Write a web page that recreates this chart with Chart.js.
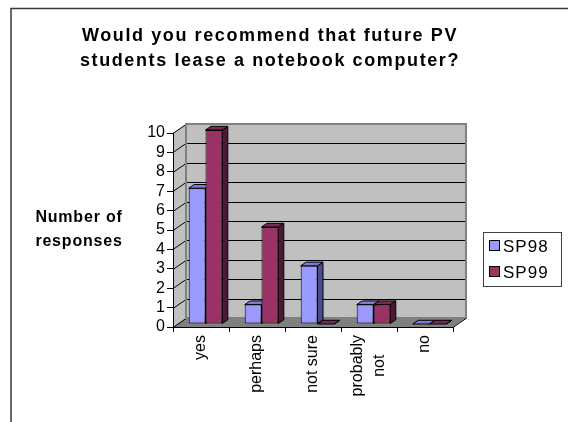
<!DOCTYPE html>
<html>
<head>
<meta charset="utf-8">
<script src="https://cdn.jsdelivr.net/npm/chart.js@4.4.0/dist/chart.umd.min.js"></script>
<style>
  html, body { margin: 0; padding: 0; background: #fff; }
  #caixa { width: 568px; height: 422px; }
</style>
</head>
<body>
<div id="caixa"><canvas id="grafico"></canvas></div>
<script>
const titulo = ['Would you recommend that future PV', 'students lease a notebook computer?'];
const tituloEixoY = ['Number of', 'responses'];
const categorias = ['yes', 'perhaps', 'not sure', ['probably', 'not'], 'no'];
const rotulos = ['SP98', 'SP99'];
const sp98 = [7, 1, 3, 1, 0];
const sp99 = [10, 5, 0, 1, 0];
const escalaY = [0, 10, 1]; // min, max, passo

// cores: frente, topo, lateral
const coresSp98 = ['#9999ff', '#7b7bd6', '#4d4d8c'];
const coresSp99 = ['#993366', '#7a2952', '#4d1a33'];

const fonte = '"Liberation Sans", Arial, sans-serif';

// profundidade da caixa 3D e das barras
const PX = 13, PY = 9;
const DX = 4.5, DY = 3;
const EX = 5.5, EY = 3.7;

function poligono(ctx, pts, cor) {
  ctx.beginPath();
  ctx.moveTo(pts[0][0], pts[0][1]);
  for (let i = 1; i < pts.length; i++) ctx.lineTo(pts[i][0], pts[i][1]);
  ctx.closePath();
  ctx.fillStyle = cor;
  ctx.fill();
  ctx.strokeStyle = '#000';
  ctx.lineWidth = 1;
  ctx.stroke();
}

const caixa3d = {
  id: 'caixa3d',
  beforeDraw(chart) {
    const { ctx, chartArea: a, scales: { y } } = chart;
    ctx.save();
    // moldura
    ctx.strokeStyle = '#3a3a3a';
    ctx.lineWidth = 1.5;
    ctx.beginPath();
    ctx.moveTo(11, 422);
    ctx.lineTo(11, 8.5);
    ctx.lineTo(568, 8.5);
    ctx.stroke();

    // paredes e chão
    ctx.fillStyle = '#c0c0c0';
    ctx.beginPath();
    ctx.moveTo(a.left, a.top);
    ctx.lineTo(a.left + PX, a.top - PY);
    ctx.lineTo(a.left + PX, a.bottom - PY);
    ctx.lineTo(a.left, a.bottom);
    ctx.closePath();
    ctx.fill();
    ctx.fillRect(a.left + PX, a.top - PY, a.right - a.left, a.bottom - a.top);
    ctx.fillStyle = '#808080';
    ctx.beginPath();
    ctx.moveTo(a.left, a.bottom);
    ctx.lineTo(a.right, a.bottom);
    ctx.lineTo(a.right + PX, a.bottom - PY);
    ctx.lineTo(a.left + PX, a.bottom - PY);
    ctx.closePath();
    ctx.fill();

    // linhas de grade
    ctx.lineWidth = 1;
    y.ticks.forEach((t, i) => {
      const py = Math.round(y.getPixelForTick(i)) + 0.5;
      ctx.strokeStyle = '#000';
      ctx.beginPath();
      ctx.moveTo(a.left, py);
      ctx.lineTo(a.left + PX, py - PY);
      if (t.value > y.min && t.value < y.max) ctx.lineTo(a.right + PX, py - PY);
      ctx.stroke();
    });

    // contorno da parede do fundo
    ctx.strokeStyle = '#808080';
    ctx.lineWidth = 2;
    ctx.strokeRect(a.left + PX, a.top - PY, a.right - a.left, a.bottom - a.top);

    // aresta direita do chão
    ctx.strokeStyle = '#000';
    ctx.lineWidth = 1;
    ctx.beginPath();
    ctx.moveTo(a.right, a.bottom + 0.5);
    ctx.lineTo(a.right + PX, a.bottom - PY + 0.5);
    ctx.stroke();
    ctx.restore();
  }
};

const barras3d = {
  id: 'barras3d',
  beforeDatasetsDraw(chart) {
    const ctx = chart.ctx;
    ctx.save();
    ctx.translate(DX, -DY);
    [coresSp98, coresSp99].forEach((cores, i) => {
      chart.getDatasetMeta(i).data.forEach(barra => {
        const { x, y, base, width } = barra.getProps(['x', 'y', 'base', 'width'], true);
        const l = x - width / 2, r = x + width / 2;
        poligono(ctx, [[r, y], [r + EX, y - EY], [r + EX, base - EY], [r, base]], cores[2]);
        poligono(ctx, [[l, y], [l + EX, y - EY], [r + EX, y - EY], [r, y]], cores[1]);
      });
    });
  },
  afterDatasetsDraw(chart) {
    chart.ctx.restore();
  }
};

const textos = {
  id: 'textos',
  afterDraw(chart) {
    const ctx = chart.ctx;
    const eixoX = chart.scales.x;
    ctx.save();
    ctx.fillStyle = '#000';
    ctx.textAlign = 'center';
    ctx.textBaseline = 'alphabetic';
    ctx.letterSpacing = '1.6px';
    ctx.font = 'bold 18px ' + fonte;
    titulo.forEach((linha, i) => ctx.fillText(linha, 270, 41 + i * 25));
    ctx.letterSpacing = '0.8px';
    ctx.font = 'bold 16px ' + fonte;
    tituloEixoY.forEach((linha, i) => ctx.fillText(linha, 79, 222 + i * 24));

    // rótulos das categorias, girados; cada bloco encosta no eixo e as linhas ficam centradas
    ctx.letterSpacing = '0px';
    ctx.font = '16px ' + fonte;
    ctx.textAlign = 'center';
    ctx.textBaseline = 'middle';
    categorias.forEach((cat, i) => {
      const linhas = Array.isArray(cat) ? cat : [cat];
      const largura = Math.max(...linhas.map(l => ctx.measureText(l).width));
      ctx.save();
      ctx.translate(eixoX.getPixelForTick(i), eixoX.top + 8);
      ctx.rotate(-Math.PI / 2);
      linhas.forEach((linha, j) => ctx.fillText(linha, -largura / 2, (j - (linhas.length - 1) / 2) * 22));
      ctx.restore();
    });

    // legenda
    ctx.strokeStyle = '#404040';
    ctx.lineWidth = 1;
    ctx.strokeRect(483.5, 232.5, 78, 54);
    ctx.textAlign = 'left';
    ctx.textBaseline = 'alphabetic';
    ctx.letterSpacing = '1px';
    ctx.font = '17px ' + fonte;
    [coresSp98, coresSp99].forEach((cores, i) => {
      const ty = 240 + i * 26;
      ctx.fillStyle = cores[0];
      ctx.fillRect(489, ty, 11, 11);
      ctx.strokeStyle = '#000';
      ctx.strokeRect(489.5, ty + 0.5, 10, 10);
      ctx.fillStyle = '#000';
      ctx.fillText(rotulos[i], 503, ty + 11.5);
    });
    ctx.restore();
  }
};

const grafico = document.getElementById('grafico');

new Chart(grafico, {
  type: 'bar',
  data: {
    labels: categorias,
    datasets: [
      {
        label: rotulos[0],
        data: sp98,
        backgroundColor: coresSp98[0],
        borderColor: '#000',
        borderWidth: 1,
        borderSkipped: false
      },
      {
        label: rotulos[1],
        data: sp99,
        backgroundColor: coresSp99[0],
        borderColor: '#000',
        borderWidth: 1,
        borderSkipped: false
      }
    ]
  },
  options: {
    responsive: true,
    maintainAspectRatio: false,
    animation: false,
    layout: { padding: { left: 0, right: 115, top: 133, bottom: 0 } },
    datasets: { bar: { categoryPercentage: 0.6, barPercentage: 1.0, clip: false } },
    plugins: {
      legend: { display: false },
      title: { display: false },
      tooltip: { enabled: false }
    },
    scales: {
      x: {
        afterFit: (escala) => { escala.height = 95; },
        grid: { offset: true, drawOnChartArea: false, tickLength: 5, color: '#000' },
        border: { color: '#000', width: 1 },
        ticks: { display: false }
      },
      y: {
        min: escalaY[0],
        max: escalaY[1],
        afterFit: (escala) => { escala.width = 173; },
        grid: { drawOnChartArea: false, tickLength: 6, color: '#000' },
        border: { color: '#000', width: 1 },
        ticks: {
          stepSize: escalaY[2], autoSkip: false, padding: 2,
          color: '#000', font: { family: fonte, size: 16 }
        }
      }
    }
  },
  plugins: [caixa3d, barras3d, textos]
});
</script>
</body>
</html>
